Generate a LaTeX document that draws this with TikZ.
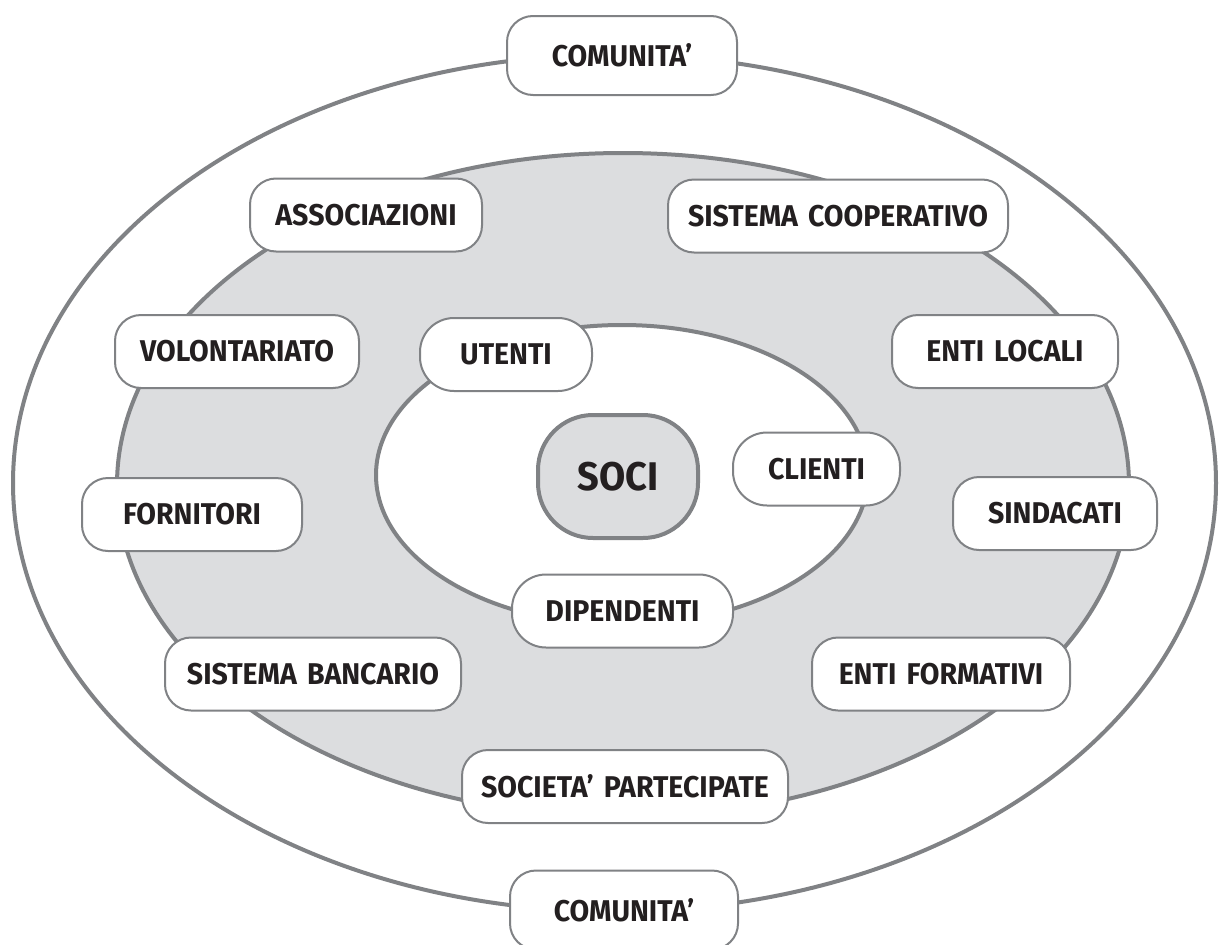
\documentclass[tikz,border=0pt]{standalone}
\usepackage{fontspec}
\setmainfont[FakeStretch=0.95, WordSpace=1.5]{Fira Sans}
\definecolor{bordo}{HTML}{808285}
\definecolor{fondo}{HTML}{DCDDDF}
\definecolor{testo}{HTML}{231F20}
\tikzset{
  voce/.style={draw=bordo, line width=2pt, fill=white, rounded corners=26pt,
    minimum height=73pt, inner xsep=8pt, text=testo,
    font=\fontsize{30}{32}\selectfont\bfseries},
  voceint/.style={voce, rounded corners=34pt},
  anello/.style={draw=bordo, line width=4pt},
}
\begin{document}
\begin{tikzpicture}[x=1pt,y=-1pt]
  \useasboundingbox (0,0) rectangle (1219,945);
  % anelli
  \draw[anello, fill=white] (614.5,483) ellipse[x radius=601.5, y radius=428.5];
  \draw[anello, fill=fondo] (623,485) ellipse[x radius=506, y radius=332];
  \draw[anello, fill=white] (622,475) ellipse[x radius=246, y radius=150];
  % voci
  \node[voce, minimum width=230pt, minimum height=79pt] (comsu) at (622,55.5) {COMUNITA’};
  \node[voce, minimum width=232pt] (assoc) at (366,215) {ASSOCIAZIONI};
  \node[voce, minimum width=340pt] (sistcoop) at (838,216) {SISTEMA COOPERATIVO};
  \node[voce, minimum width=244pt] (volont) at (237,351.5) {VOLONTARIATO};
  \node[voceint, minimum width=172pt] (utenti) at (506,354.5) {UTENTI};
  \node[voce, minimum width=226pt] (entiloc) at (1005,351.5) {ENTI LOCALI};
  \node[draw=bordo, line width=4pt, fill=fondo, rounded corners=55pt,
    minimum width=160pt, minimum height=123pt, text=testo,
    font=\fontsize{40}{42}\selectfont\bfseries] (soci) at (618,476.5) {SOCI};
  \node[voceint, minimum width=167pt] (clienti) at (816.5,469) {CLIENTI};
  \node[voce, minimum width=220pt] (fornit) at (192,514.5) {FORNITORI};
  \node[voce, minimum width=204pt] (sindac) at (1055,513.5) {SINDACATI};
  \node[voceint, minimum width=221pt] (dipend) at (622.5,611) {DIPENDENTI};
  \node[voce, minimum width=296pt] (banc) at (313,674) {SISTEMA BANCARIO};
  \node[voce, minimum width=258pt] (entiform) at (941,674) {ENTI FORMATIVI};
  \node[voce, minimum width=326pt] (socpart) at (625,786.5) {SOCIETA’ PARTECIPATE};
  \node[voce, minimum width=228pt, minimum height=79pt] (comgiu) at (624,910) {COMUNITA’};
\end{tikzpicture}
\end{document}
